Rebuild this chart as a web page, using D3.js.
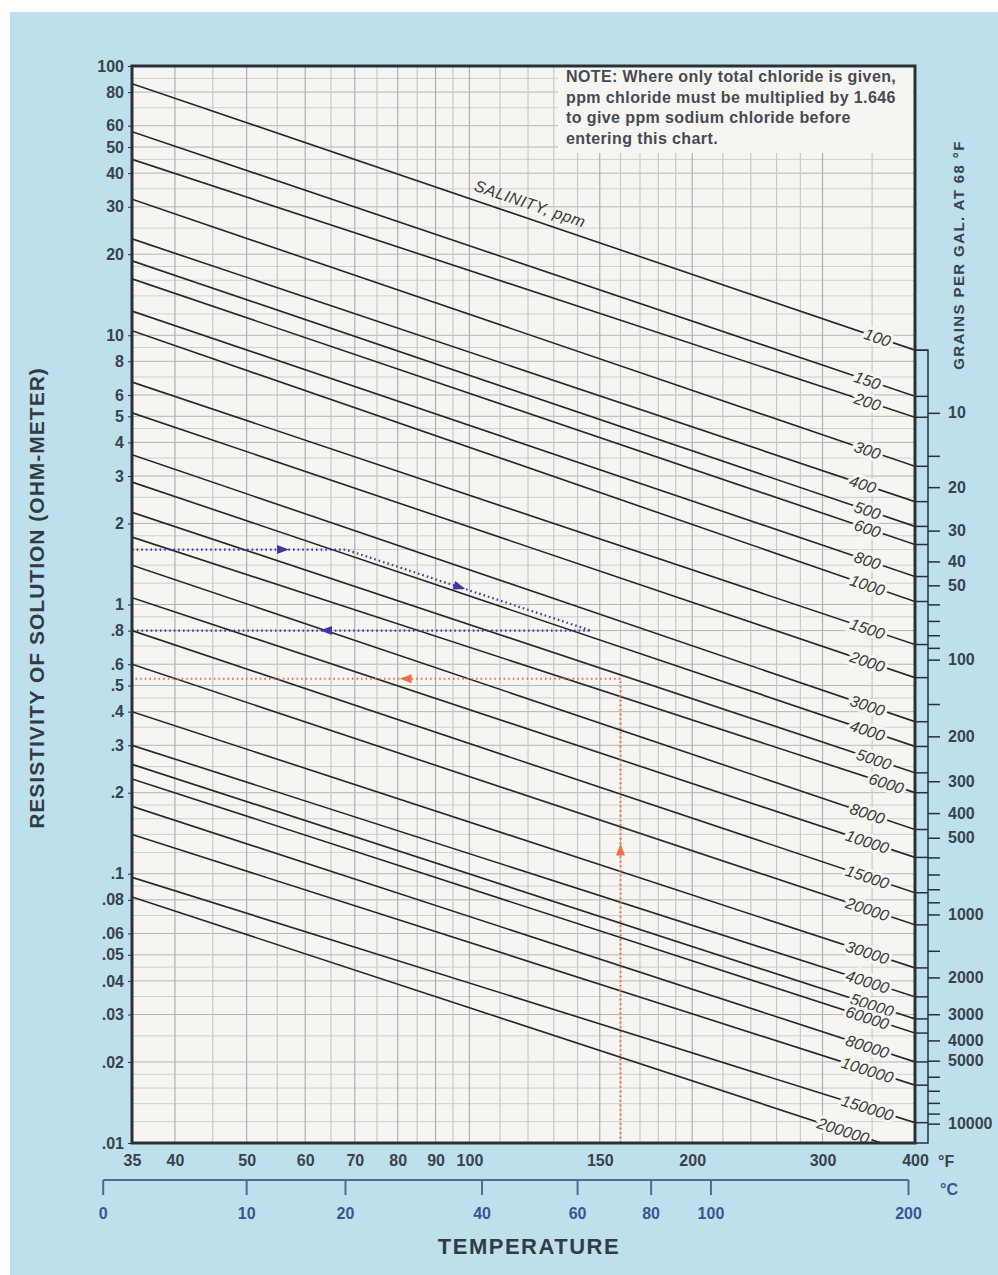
<!DOCTYPE html>
<html>
<head>
<meta charset="utf-8">
<script src="https://cdn.jsdelivr.net/npm/d3@7"></script>
<style>
  body { margin: 0; background: #fff; }
  svg { display: block; }
  text { font-family: "Liberation Sans", Arial, sans-serif; }
</style>
</head>
<body>
<div id="chart"></div>
<script>
// salinity lines (ppm NaCl), resistivity read at both ends of the chart
const ppm = [100, 150, 200, 300, 400, 500, 600, 800, 1000, 1500, 2000, 3000, 4000, 5000, 6000, 8000,
    10000, 15000, 20000, 30000, 40000, 50000, 60000, 80000, 100000, 150000, 200000]
const resAt35F = [86, 57, 45, 32, 22.8, 18.9, 16.2, 12.3, 10.4, 6.7, 5.15, 3.6, 2.85, 2.2, 1.78, 1.4,
    1.06, 0.8, 0.6, 0.4, 0.3, 0.255, 0.225, 0.178, 0.14, 0.097, 0.082]
const resAt400F = [8.8, 5.93, 4.96, 3.26, 2.41, 1.95, 1.67, 1.27, 1.026, 0.71, 0.535, 0.367, 0.297, 0.237, 0.2, 0.146,
    0.115, 0.085, 0.0646, 0.0447, 0.0349, 0.0289, 0.0256, 0.02, 0.0164, 0.0119, 0.0091]

// axis ticks
const resTicks = [100, 80, 60, 50, 40, 30, 20, 10, 8, 6, 5, 4, 3, 2, 1, .8, .6, .5, .4, .3, .2, .1,
    .08, .06, .05, .04, .03, .02, .01]
const fahrTicks = [35, 40, 50, 60, 70, 80, 90, 100, 150, 200, 300, 400]
const celsTicks = [0, 10, 20, 40, 60, 80, 100, 200]
const grainTicks = [10, 20, 30, 40, 50, 100, 200, 300, 400, 500, 1000, 2000, 3000, 4000, 5000, 10000]
const grainMinor = [15, 60, 70, 80, 90, 150, 600, 700, 800, 900, 1500, 6000, 7000, 8000, 9000]
// grains per gallon vs resistivity on the right hand scale
const grainKnots = [10, 100, 1000, 10000]
const grainKnotRes = [5.15, 0.624, 0.0706, 0.0118]

// worked examples (temperature F, resistivity)
const blueTemp = [35, 68, 146, 35]
const blueRes = [1.6, 1.6, 0.8, 0.8]
const blueArrows = [[0, 56, null], [1, 97, null], [2, 64, null]]
const redTemp = [160, 160, 35]
const redRes = [0.01, 0.53, 0.53]
const redArrows = [[0, null, 0.123], [1, 82, null]]

const noteLines = ["NOTE: Where only total chloride is given,",
    "ppm chloride must be multiplied by 1.646",
    "to give ppm sodium chloride before",
    "entering this chart."]

const W = 998, H = 1275
const plotBg = "#f6f5f2"
const ink = "#39434d"
const fontFam = '"Liberation Sans", Arial, sans-serif'

const x = d3.scaleLog().domain([35, 400]).range([132, 915])
const y = d3.scaleLog().domain([0.01, 100]).range([1143, 66])
const grainY = d3.scaleLog().domain(grainKnots).range(grainKnotRes.map(r => y(r)))

const svg = d3.select('#chart').append('svg')
    .attr('width', W)
    .attr('height', H)

svg.append('rect').attr('x', 10).attr('y', 12).attr('width', W - 10).attr('height', H - 12)
    .attr('fill', '#bde0ec')

svg.append('defs').append('clipPath').attr('id', 'plotClip')
    .append('rect').attr('x', 132).attr('y', 66).attr('width', 783).attr('height', 1077)

svg.append('rect').attr('x', 132).attr('y', 66).attr('width', 783).attr('height', 1077)
    .attr('fill', plotBg)

// grid
const yGrid = []
const mant = [1, 1.2, 1.4, 1.6, 1.8, 2, 2.5, 3, 3.5, 4, 4.5, 5, 6, 7, 8, 9]
;[0.01, 0.1, 1, 10].forEach(d => mant.forEach(m => yGrid.push(+(m * d).toPrecision(3))))
const xGrid = d3.range(40, 100, 5).concat(d3.range(100, 200, 10), d3.range(200, 300, 20), [300, 350])

const grid = svg.append('g')
grid.selectAll('line.h').data(yGrid).enter().append('line')
    .attr('x1', 132).attr('x2', 915)
    .attr('y1', d => y(d)).attr('y2', d => y(d))
    .attr('stroke', d => resTicks.includes(d) ? '#b5b5b5' : '#cfcfcf')
    .attr('stroke-width', 1)
grid.selectAll('line.v').data(xGrid).enter().append('line')
    .attr('y1', 66).attr('y2', 1143)
    .attr('x1', d => x(d)).attr('x2', d => x(d))
    .attr('stroke', d => fahrTicks.includes(d) ? '#b0b0b0' : '#c8c8c8')
    .attr('stroke-width', 1.2)

// note panel hides the grid
svg.append('rect').attr('x', 558).attr('y', 67).attr('width', 355).attr('height', 86)
    .attr('fill', plotBg)
svg.append('g').selectAll('text').data(noteLines).enter().append('text')
    .attr('x', 566)
    .attr('y', (d, i) => 82 + i * 20.5)
    .attr('font-size', 16)
    .attr('font-weight', 'bold')
    .attr('letter-spacing', 0.4)
    .attr('fill', '#454b52')
    .text(d => d)

// salinity lines
const lines = ppm.map((p, i) => ({
    ppm: p,
    a: [x(35), y(resAt35F[i])],
    b: [x(400), y(resAt400F[i])]
}))

const plot = svg.append('g').attr('clip-path', 'url(#plotClip)')
plot.selectAll('line.sal').data(lines).enter().append('line')
    .attr('x1', d => d.a[0]).attr('y1', d => d.a[1])
    .attr('x2', d => d.b[0]).attr('y2', d => d.b[1])
    .attr('stroke', '#262626')
    .attr('stroke-width', 1.6)

// labels sitting on the lines
const labelTemp = {100: 356, 400: 340, 5000: 352, 6000: 366, 50000: 350, 200000: 320}
const onLine = (d, t) => {
    const px = x(t)
    const f = (px - d.a[0]) / (d.b[0] - d.a[0])
    return [px, d.a[1] + f * (d.b[1] - d.a[1])]
}
const angleOf = d => Math.atan2(d.b[1] - d.a[1], d.b[0] - d.a[0]) * 180 / Math.PI

plot.selectAll('text.sal').data(lines).enter().append('text')
    .attr('transform', d => {
        const p = onLine(d, labelTemp[d.ppm] || 345)
        return 'translate(' + p[0] + ',' + p[1] + ') rotate(' + angleOf(d) + ')'
    })
    .attr('text-anchor', 'middle')
    .attr('dy', '0.36em')
    .attr('font-size', 16)
    .attr('font-style', 'italic')
    .attr('fill', '#3a3a3a')
    .attr('stroke', plotBg)
    .attr('stroke-width', 6)
    .attr('paint-order', 'stroke')
    .text(d => d.ppm)

const sp = onLine(lines[0], 119)
svg.append('text')
    .attr('transform', 'translate(' + sp[0] + ',' + sp[1] + ') rotate(' + angleOf(lines[0]) + ') translate(0,-9)')
    .attr('text-anchor', 'middle')
    .attr('font-size', 16)
    .attr('font-style', 'italic')
    .attr('letter-spacing', 0.5)
    .attr('fill', '#3a3a3a')
    .text('SALINITY, ppm')

// worked examples
const drawExample = (temps, res, arrows, color) => {
    const pts = temps.map((t, i) => [x(t), y(res[i])])
    plot.append('path')
        .attr('d', d3.line()(pts))
        .attr('fill', 'none')
        .attr('stroke', color)
        .attr('stroke-width', 2.2)
        .attr('stroke-dasharray', '1.6,3')
    arrows.forEach(([seg, t, r]) => {
        const p0 = pts[seg], p1 = pts[seg + 1]
        const f = t !== null ? (x(t) - p0[0]) / (p1[0] - p0[0]) : (y(r) - p0[1]) / (p1[1] - p0[1])
        const px = p0[0] + f * (p1[0] - p0[0]), py = p0[1] + f * (p1[1] - p0[1])
        const ang = Math.atan2(p1[1] - p0[1], p1[0] - p0[0]) * 180 / Math.PI
        plot.append('path')
            .attr('d', 'M-6,-4.5L6,0L-6,4.5Z')
            .attr('transform', 'translate(' + px + ',' + py + ') rotate(' + ang + ')')
            .attr('fill', color)
    })
}
drawExample(blueTemp, blueRes, blueArrows, '#3b3a9c')
drawExample(redTemp, redRes, redArrows, '#ee6f45')

// frame
svg.append('rect').attr('x', 132).attr('y', 66).attr('width', 783).attr('height', 1077)
    .attr('fill', 'none').attr('stroke', '#2b3036').attr('stroke-width', 3)

// left axis
const fmtRes = d => d >= 1 ? String(d) : String(d).replace(/^0/, '')
const yAxis = svg.append('g')
    .attr('transform', 'translate(132,0)')
    .call(d3.axisLeft(y).tickValues(resTicks).tickFormat(fmtRes).tickSize(4).tickPadding(4))
yAxis.select('.domain').remove()
yAxis.selectAll('line').attr('stroke', '#2b3036')
yAxis.selectAll('text').attr('font-size', 16).attr('font-weight', 'bold').attr('fill', ink)
    .attr('font-family', fontFam)

// fahrenheit axis
const xAxis = svg.append('g')
    .attr('transform', 'translate(0,1143)')
    .call(d3.axisBottom(x).tickValues(fahrTicks).tickFormat(d3.format('d')).tickSize(0).tickPadding(12))
xAxis.select('.domain').remove()
xAxis.selectAll('text').attr('font-size', 16).attr('font-weight', 'bold').attr('fill', ink)
    .attr('font-family', fontFam)
svg.append('text').attr('x', 938).attr('y', 1167).attr('font-size', 16).attr('font-weight', 'bold')
    .attr('fill', ink).text('°F')

// celsius axis, placed through the fahrenheit scale
const cx = c => x(c * 1.8 + 32)
const cAxis = svg.append('g')
const cBlue = '#3a5690'
cAxis.append('line')
    .attr('x1', cx(celsTicks[0])).attr('x2', cx(celsTicks[celsTicks.length - 1]))
    .attr('y1', 1180).attr('y2', 1180)
    .attr('stroke', '#4a6a9c').attr('stroke-width', 2)
cAxis.selectAll('line.t').data(celsTicks).enter().append('line')
    .attr('x1', d => cx(d)).attr('x2', d => cx(d))
    .attr('y1', 1180).attr('y2', 1195)
    .attr('stroke', '#4a6a9c').attr('stroke-width', 2)
cAxis.selectAll('text').data(celsTicks).enter().append('text')
    .attr('x', d => cx(d)).attr('y', 1219)
    .attr('text-anchor', 'middle')
    .attr('font-size', 16).attr('font-weight', 'bold').attr('fill', cBlue)
    .text(d => d)
svg.append('text').attr('x', 940).attr('y', 1195).attr('font-size', 16).attr('font-weight', 'bold')
    .attr('fill', cBlue).text('°C')

svg.append('text').attr('x', 529).attr('y', 1254)
    .attr('text-anchor', 'middle')
    .attr('font-size', 22).attr('font-weight', 'bold').attr('letter-spacing', 1.5)
    .attr('fill', '#333c45').text('TEMPERATURE')

svg.append('text')
    .attr('transform', 'translate(44,598) rotate(-90)')
    .attr('text-anchor', 'middle')
    .attr('font-size', 21).attr('font-weight', 'bold').attr('letter-spacing', 1)
    .attr('fill', '#333c45').text('RESISTIVITY OF SOLUTION (OHM-METER)')

// grains per gallon strip
const boxTop = y(resAt400F[0])
svg.append('rect').attr('x', 915).attr('y', boxTop).attr('width', 13).attr('height', 1143 - boxTop)
    .attr('fill', 'none').attr('stroke', '#2b3036').attr('stroke-width', 1.5)
svg.append('g').selectAll('line').data(resAt400F.filter(r => r >= 0.01)).enter().append('line')
    .attr('x1', 915).attr('x2', 928)
    .attr('y1', d => y(d)).attr('y2', d => y(d))
    .attr('stroke', '#2b3036').attr('stroke-width', 1.5)

const gAxis = svg.append('g')
    .attr('transform', 'translate(928,0)')
    .call(d3.axisRight(grainY).tickValues(grainTicks).tickFormat(d3.format('d')).tickSize(12).tickPadding(8))
gAxis.select('.domain').remove()
gAxis.selectAll('line').attr('stroke', '#2b3036').attr('stroke-width', 1.5)
gAxis.selectAll('text').attr('font-size', 16).attr('font-weight', 'bold').attr('fill', ink)
    .attr('font-family', fontFam)
svg.append('g').selectAll('line').data(grainMinor).enter().append('line')
    .attr('x1', 928).attr('x2', 940)
    .attr('y1', d => grainY(d)).attr('y2', d => grainY(d))
    .attr('stroke', '#2b3036').attr('stroke-width', 1.5)

svg.append('text')
    .attr('transform', 'translate(964,255) rotate(-90)')
    .attr('text-anchor', 'middle')
    .attr('font-size', 15).attr('font-weight', 'bold').attr('letter-spacing', 1.4)
    .attr('fill', '#3a434c').text('GRAINS PER GAL. AT 68 °F')
</script>
</body>
</html>
